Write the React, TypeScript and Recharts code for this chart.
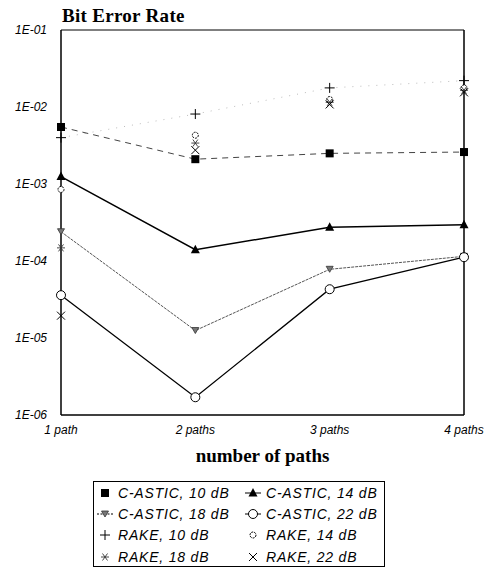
import React from "react";
import { LineChart, Line, XAxis, YAxis, ReferenceLine } from "recharts";

// number of paths on the x axis
const categories = ["1 path", "2 paths", "3 paths", "4 paths"];

// bit error rate per series
const castic10 = [5.5e-3, 2.1e-3, 2.5e-3, 2.6e-3];
const castic14 = [1.25e-3, 1.4e-4, 2.75e-4, 2.95e-4];
const castic18 = [2.4e-4, 1.25e-5, 7.8e-5, 1.15e-4];
const castic22 = [3.6e-5, 1.7e-6, 4.3e-5, 1.12e-4];
const rake10 = [4.0e-3, 8.1e-3, 1.77e-2, 2.2e-2];
const rake14 = [8.5e-4, 4.3e-3, 1.25e-2, 1.77e-2];
const rake18 = [1.48e-4, 3.4e-3, 1.15e-2, 1.65e-2];
const rake22 = [1.95e-5, 2.75e-3, 1.08e-2, 1.55e-2];

const yTicks = [1e-1, 1e-2, 1e-3, 1e-4, 1e-5, 1e-6];

const data = categories.map((name, i) => ({
  name,
  castic10: castic10[i],
  castic14: castic14[i],
  castic18: castic18[i],
  castic22: castic22[i],
  rake10: rake10[i],
  rake14: rake14[i],
  rake18: rake18[i],
  rake22: rake22[i],
}));

const sans = "'Liberation Sans', Arial, sans-serif";
const serif = "'Liberation Serif', 'Times New Roman', serif";

const formatTick = (v: number) => {
  const e = Math.round(-Math.log10(v));
  return `1E-${String(e).padStart(2, "0")}`;
};

// marker glyphs, shared by the plot and the legend
const glyph = (kind: string, cx: number, cy: number) => {
  switch (kind) {
    case "square":
      return <rect x={cx - 4} y={cy - 4} width={8} height={8} fill="#000" />;
    case "triangle":
      return <polygon points={`${cx},${cy - 5} ${cx - 4.5},${cy + 3.5} ${cx + 4.5},${cy + 3.5}`} fill="#000" />;
    case "down":
      return <polygon points={`${cx - 3.5},${cy - 3} ${cx + 3.5},${cy - 3} ${cx},${cy + 3}`} fill="#777" stroke="#333" strokeWidth={0.8} />;
    case "circle":
      return <circle cx={cx} cy={cy} r={4.5} fill="#fff" stroke="#000" strokeWidth={1} />;
    case "plus":
      return (
        <g stroke="#000" strokeWidth={1}>
          <line x1={cx - 5} y1={cy} x2={cx + 5} y2={cy} />
          <line x1={cx} y1={cy - 5} x2={cx} y2={cy + 5} />
        </g>
      );
    case "sun":
      return <circle cx={cx} cy={cy} r={3} fill="#fff" stroke="#000" strokeWidth={1} strokeDasharray="2 1" />;
    case "star":
      return (
        <g stroke="#333" strokeWidth={0.9}>
          <line x1={cx - 4} y1={cy} x2={cx + 4} y2={cy} />
          <line x1={cx - 2.5} y1={cy - 3.5} x2={cx + 2.5} y2={cy + 3.5} />
          <line x1={cx - 2.5} y1={cy + 3.5} x2={cx + 2.5} y2={cy - 3.5} />
        </g>
      );
    case "cross":
      return (
        <g stroke="#000" strokeWidth={1}>
          <line x1={cx - 4} y1={cy - 4} x2={cx + 4} y2={cy + 4} />
          <line x1={cx - 4} y1={cy + 4} x2={cx + 4} y2={cy - 4} />
        </g>
      );
    default:
      return null;
  }
};

const dotOf = (kind: string) => (p: any) => {
  if (p.cx == null || p.cy == null) return <g key={`${kind}-${p.index}`} />;
  return <g key={`${kind}-${p.index}`}>{glyph(kind, p.cx, p.cy)}</g>;
};

interface LegendItem {
  label: string;
  kind: string;
  line?: string;
}

const legendRows: LegendItem[][] = [
  [{ label: "C-ASTIC, 10 dB", kind: "square" }, { label: "C-ASTIC, 14 dB", kind: "triangle", line: "solid" }],
  [{ label: "C-ASTIC, 18 dB", kind: "down", line: "dash" }, { label: "C-ASTIC, 22 dB", kind: "circle", line: "solid" }],
  [{ label: "RAKE, 10 dB", kind: "plus" }, { label: "RAKE, 14 dB", kind: "sun" }],
  [{ label: "RAKE, 18 dB", kind: "star" }, { label: "RAKE, 22 dB", kind: "cross" }],
];

const LegendCell = ({ item }: { item: LegendItem }) => (
  <div style={{ display: "flex", alignItems: "center", width: 148, height: 21.3 }}>
    <svg width={18} height={14} style={{ flex: "none" }}>
      {item.line && (
        <line
          x1={1}
          y1={7}
          x2={17}
          y2={7}
          stroke="#000"
          strokeWidth={1}
          strokeDasharray={item.line === "dash" ? "2 1.5" : undefined}
        />
      )}
      {glyph(item.kind, 9, 7)}
    </svg>
    <span
      style={{
        marginLeft: 4,
        fontFamily: sans,
        fontStyle: "italic",
        fontSize: 14,
        letterSpacing: 0.8,
        whiteSpace: "nowrap",
      }}
    >
      {item.label}
    </span>
  </div>
);

export default function App() {
  return (
    <div style={{ position: "absolute", left: 0, top: 0, width: 489, height: 570, background: "#fff" }}>
      <div
        style={{
          position: "absolute",
          left: 62,
          top: 6,
          fontFamily: serif,
          fontWeight: "bold",
          fontSize: 19,
          lineHeight: "19px",
          letterSpacing: 0.3,
          whiteSpace: "nowrap",
        }}
      >
        Bit Error Rate
      </div>
      <LineChart width={489} height={570} data={data} margin={{ top: 30, right: 25, left: 0, bottom: 105 }}>
        <XAxis
          dataKey="name"
          height={50}
          tickLine={false}
          axisLine={{ stroke: "#000", strokeWidth: 1.5 }}
          tickMargin={4}
          interval={0}
          tick={{ fontSize: 12, fontStyle: "italic", fontFamily: sans, fill: "#000" }}
          label={{
            value: "number of paths",
            position: "insideBottom",
            offset: 3,
            style: { fontFamily: serif, fontWeight: "bold", fontSize: 19, fill: "#000" },
          }}
        />
        <YAxis
          scale="log"
          domain={[1e-6, 1e-1]}
          ticks={yTicks}
          allowDataOverflow
          width={61}
          tickLine={false}
          axisLine={{ stroke: "#000", strokeWidth: 1.5 }}
          tickMargin={8}
          interval={0}
          tickFormatter={formatTick}
          tick={{ fontSize: 12, fontStyle: "italic", fontFamily: sans, fill: "#000" }}
        />
        <ReferenceLine y={1e-1} stroke="#000" strokeWidth={1} />
        <ReferenceLine x="4 paths" stroke="#000" strokeWidth={1.5} />

        <Line type="linear" dataKey="rake10" stroke="#bbb" strokeWidth={1} strokeDasharray="1 7" dot={dotOf("plus")} activeDot={false} isAnimationActive={false} />
        <Line type="linear" dataKey="rake14" stroke="none" dot={dotOf("sun")} activeDot={false} isAnimationActive={false} />
        <Line type="linear" dataKey="rake18" stroke="none" dot={dotOf("star")} activeDot={false} isAnimationActive={false} />
        <Line type="linear" dataKey="rake22" stroke="none" dot={dotOf("cross")} activeDot={false} isAnimationActive={false} />

        <Line type="linear" dataKey="castic10" stroke="#444" strokeWidth={1} strokeDasharray="6 5" dot={dotOf("square")} activeDot={false} isAnimationActive={false} />
        <Line type="linear" dataKey="castic14" stroke="#000" strokeWidth={1.5} dot={dotOf("triangle")} activeDot={false} isAnimationActive={false} />
        <Line type="linear" dataKey="castic18" stroke="#555" strokeWidth={1} strokeDasharray="3 1" dot={dotOf("down")} activeDot={false} isAnimationActive={false} />
        <Line type="linear" dataKey="castic22" stroke="#000" strokeWidth={1.3} dot={dotOf("circle")} activeDot={false} isAnimationActive={false} />
      </LineChart>
      <div
        style={{
          position: "absolute",
          left: 93,
          top: 481,
          width: 290,
          height: 84,
          border: "1px solid #000",
          paddingTop: 0,
          boxSizing: "content-box",
        }}
      >
        {legendRows.map((row, r) => (
          <div key={r} style={{ display: "flex" }}>
            <div style={{ marginLeft: 2 }}>
              <LegendCell item={row[0]} />
            </div>
            <LegendCell item={row[1]} />
          </div>
        ))}
      </div>
    </div>
  );
}
